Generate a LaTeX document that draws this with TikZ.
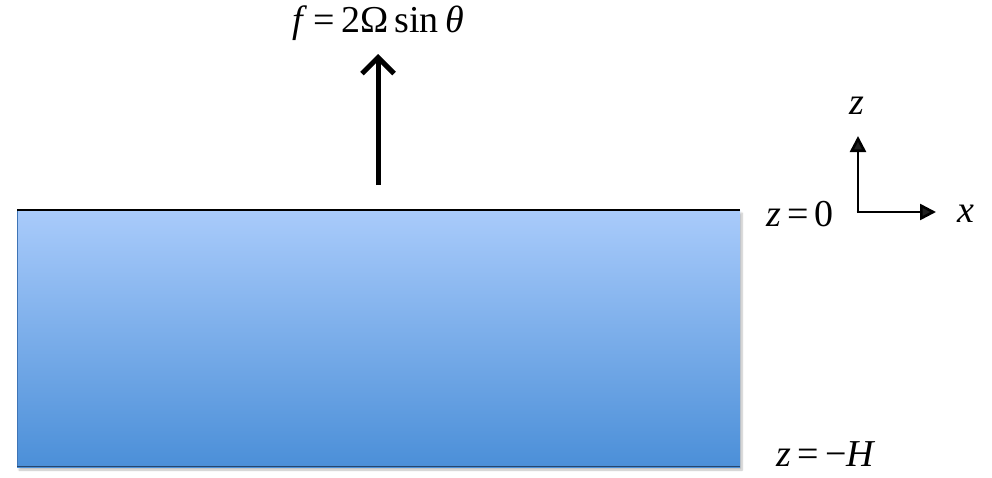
\documentclass[tikz,border=0pt]{standalone}
\usepackage{fontspec}
\setmainfont{Liberation Serif}
\usepackage{tikz}
\usetikzlibrary{arrows.meta, positioning, shadows.blur}
\definecolor{SeaTop}{HTML}{A9CBFB}
\definecolor{SeaBottom}{HTML}{4B8FD8}
\definecolor{SeaEdge}{HTML}{3F74B5}

\begin{document}
\begin{tikzpicture}[
    x=1pt, y=-1pt,
    font=\fontsize{38}{44}\selectfont,
    lbl/.style={inner sep=0pt, anchor=center},
    axis/.style={line width=2.6pt, -{Triangle[length=16pt,width=16pt]}},
    force/.style={line width=5pt, -{Straight Barb[length=16pt,width=32pt,line width=5pt]}},
  ]
    \useasboundingbox (0,0) rectangle (992,477);
    % water layer
    \shade[top color=SeaTop, bottom color=SeaBottom, blur shadow={shadow xshift=2pt, shadow yshift=-3pt, shadow blur steps=6, shadow opacity=25}]
      (17,210) rectangle (740,467);
    \draw[SeaEdge, line width=1.2pt] (17.6,210) -- (17.6,467);
    \draw[SeaEdge!60!black, line width=1.4pt] (17,466.5) -- (740,466.5);
    \draw[black, line width=2pt] (17,210) -- (740,210);

    \node[lbl] (flabel) at (378,23) {\textit{f}\,=\,2Ω\,sin\,\textit{θ}};
    \coordinate (ffoot) at (378,185);
    \coordinate (ftip) at (378,54);
    \draw[force] (ffoot) -- (ftip);

    \node[lbl] (top) at (800,214) {\textit{z}\,=\,0};
    \node[lbl] (bottom) at (826,454) {\textit{z}\,=\,−\textit{H}};

    \coordinate (origin) at (858,212);
    \coordinate (zend) at (858,136);
    \coordinate (xend) at (936,212);
    \draw[axis] ([xshift=-1.3pt]origin) -- (xend);
    \draw[axis] ([yshift=1.3pt]origin) -- (zend);
    \node[lbl] (zlabel) at (857,106) {\textit{z}};
    \node[lbl] (xlabel) at (966,214) {\textit{x}};
  \end{tikzpicture}
\end{document}
